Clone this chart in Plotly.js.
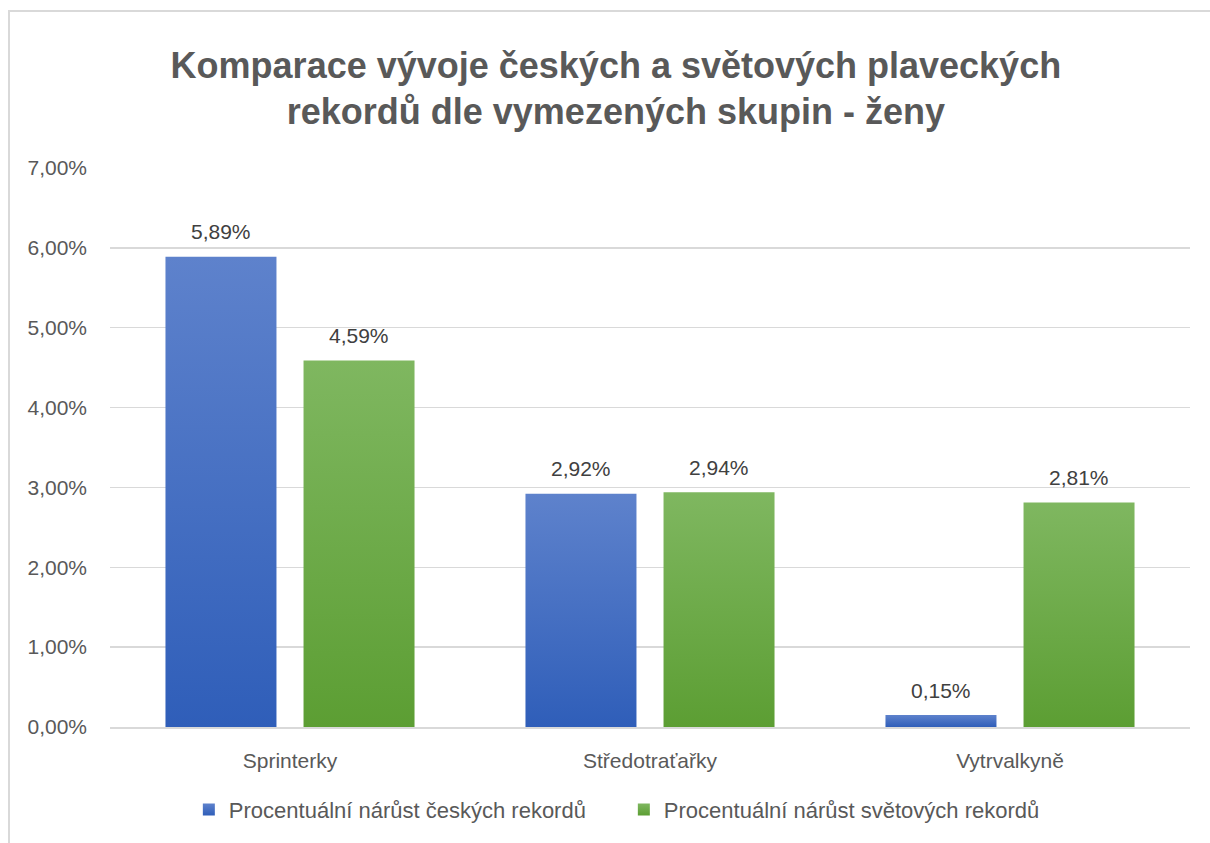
<!DOCTYPE html>
<html>
<head>
<meta charset="utf-8">
<script src="https://cdn.plot.ly/plotly-3.0.1.min.js"></script>
<style>
  html, body { margin: 0; padding: 0; background: #ffffff; }
  #wrap { position: relative; width: 1210px; height: 843px; overflow: hidden; }
  #chart { position: absolute; left: 0; top: 0; width: 1210px; height: 843px; }
  #frame { position: absolute; left: 8px; top: 10px; width: 1300px; height: 900px;
           border-left: 2px solid #d9d9d9; border-top: 2px solid #d9d9d9; pointer-events: none; }
</style>
</head>
<body>
<div id="wrap">
  <div id="chart"></div>
  <div id="frame"></div>
</div>
<script>
const categories = ["Sprinterky", "Středotraťařky", "Vytrvalkyně"];
const seriesNames = ["Procentuální nárůst českých rekordů", "Procentuální nárůst světových rekordů"];
const czechValues = [0.0589, 0.0292, 0.0015];
const worldValues = [0.0459, 0.0294, 0.0281];
const titleText = "Komparace vývoje českých a světových plaveckých<br>rekordů dle vymezených skupin - ženy";

const FONT = "Liberation Sans, Arial, sans-serif";
const GREY = "#595959";
const BARGAP = 0.233;
const BARGROUPGAP = 0.196;

const allSeries = [czechValues, worldValues];
const colors = ["#4472C4", "#70AD47"];

const traces = allSeries.map(function (vals, i) {
  return {
    type: "bar", name: seriesNames[i], x: categories, y: vals,
    marker: { color: colors[i] },
    hoverinfo: "skip"
  };
});

// data labels above each bar, placed on the axes from the data arrays
const slot = (1 - BARGAP) / allSeries.length;
const annotations = [];
allSeries.forEach(function (vals, i) {
  const off = -((1 - BARGAP) / 2) + slot * (i + 0.5);
  vals.forEach(function (v, j) {
    annotations.push({
      xref: "x", yref: "y", x: j + off, y: v,
      text: (v * 100).toFixed(2).replace(".", ",") + "%",
      showarrow: false, yanchor: "middle", xanchor: "center", yshift: 25,
      font: { family: FONT, size: 21, color: "#404040" }
    });
  });
});

const layout = {
  width: 1210, height: 843,
  paper_bgcolor: "#ffffff", plot_bgcolor: "#ffffff",
  separators: ", ",
  font: { family: FONT, color: GREY, size: 21 },
  title: {
    text: titleText,
    font: { family: FONT, size: 36, color: GREY, weight: "bold" },
    x: 0.509, xanchor: "center", xref: "container",
    y: 0.908, yanchor: "middle", yref: "container"
  },
  margin: { l: 110, r: 20, t: 168, b: 116 },
  bargap: BARGAP, bargroupgap: BARGROUPGAP, barmode: "group",
  xaxis: {
    type: "category",
    showline: true, linecolor: "#d9d9d9", linewidth: 1.5,
    ticks: "", ticklabelstandoff: 14,
    tickfont: { family: FONT, size: 21, color: GREY },
    showgrid: false
  },
  yaxis: {
    range: [0, 0.07], dtick: 0.01, tickformat: ".2%",
    gridcolor: "#d9d9d9", gridwidth: 1.5, zeroline: false,
    showline: false, ticks: "", ticklabelstandoff: 22,
    tickfont: { family: FONT, size: 21, color: GREY }
  },
  legend: {
    orientation: "h", x: 0.073, xanchor: "left", y: -0.148, yanchor: "middle",
    font: { family: FONT, size: 22, color: GREY },
    itemwidth: 30, entrywidth: 390, entrywidthmode: "pixels"
  },
  annotations: annotations,
  showlegend: true
};

Plotly.newPlot("chart", traces, layout, { staticPlot: true, displayModeBar: false }).then(function (gd) {
  // vertical gradient fills like the original Office chart
  const svg = gd.querySelector("svg.main-svg");
  const ns = "http://www.w3.org/2000/svg";
  let defs = svg.querySelector("defs");
  if (!defs) { defs = document.createElementNS(ns, "defs"); svg.insertBefore(defs, svg.firstChild); }
  function grad(id, top, bottom) {
    const g = document.createElementNS(ns, "linearGradient");
    g.setAttribute("id", id);
    g.setAttribute("x1", "0"); g.setAttribute("y1", "0");
    g.setAttribute("x2", "0"); g.setAttribute("y2", "1");
    [[0, top], [1, bottom]].forEach(function (s) {
      const st = document.createElementNS(ns, "stop");
      st.setAttribute("offset", s[0]); st.setAttribute("stop-color", s[1]);
      g.appendChild(st);
    });
    defs.appendChild(g);
  }
  grad("gBlue", "#5E82CC", "#2F5EB9");
  grad("gGreen", "#7FB760", "#5C9E33");
  const ids = ["gBlue", "gGreen"];
  gd.querySelectorAll(".barlayer .trace").forEach(function (t, i) {
    t.querySelectorAll(".point path").forEach(function (p) {
      p.style.fill = "url(#" + ids[i] + ")";
    });
  });
  gd.querySelectorAll(".legend .traces .legendpoints path").forEach(function (p, i) {
    p.style.fill = "url(#" + ids[i] + ")";
  });
});
</script>
</body>
</html>
